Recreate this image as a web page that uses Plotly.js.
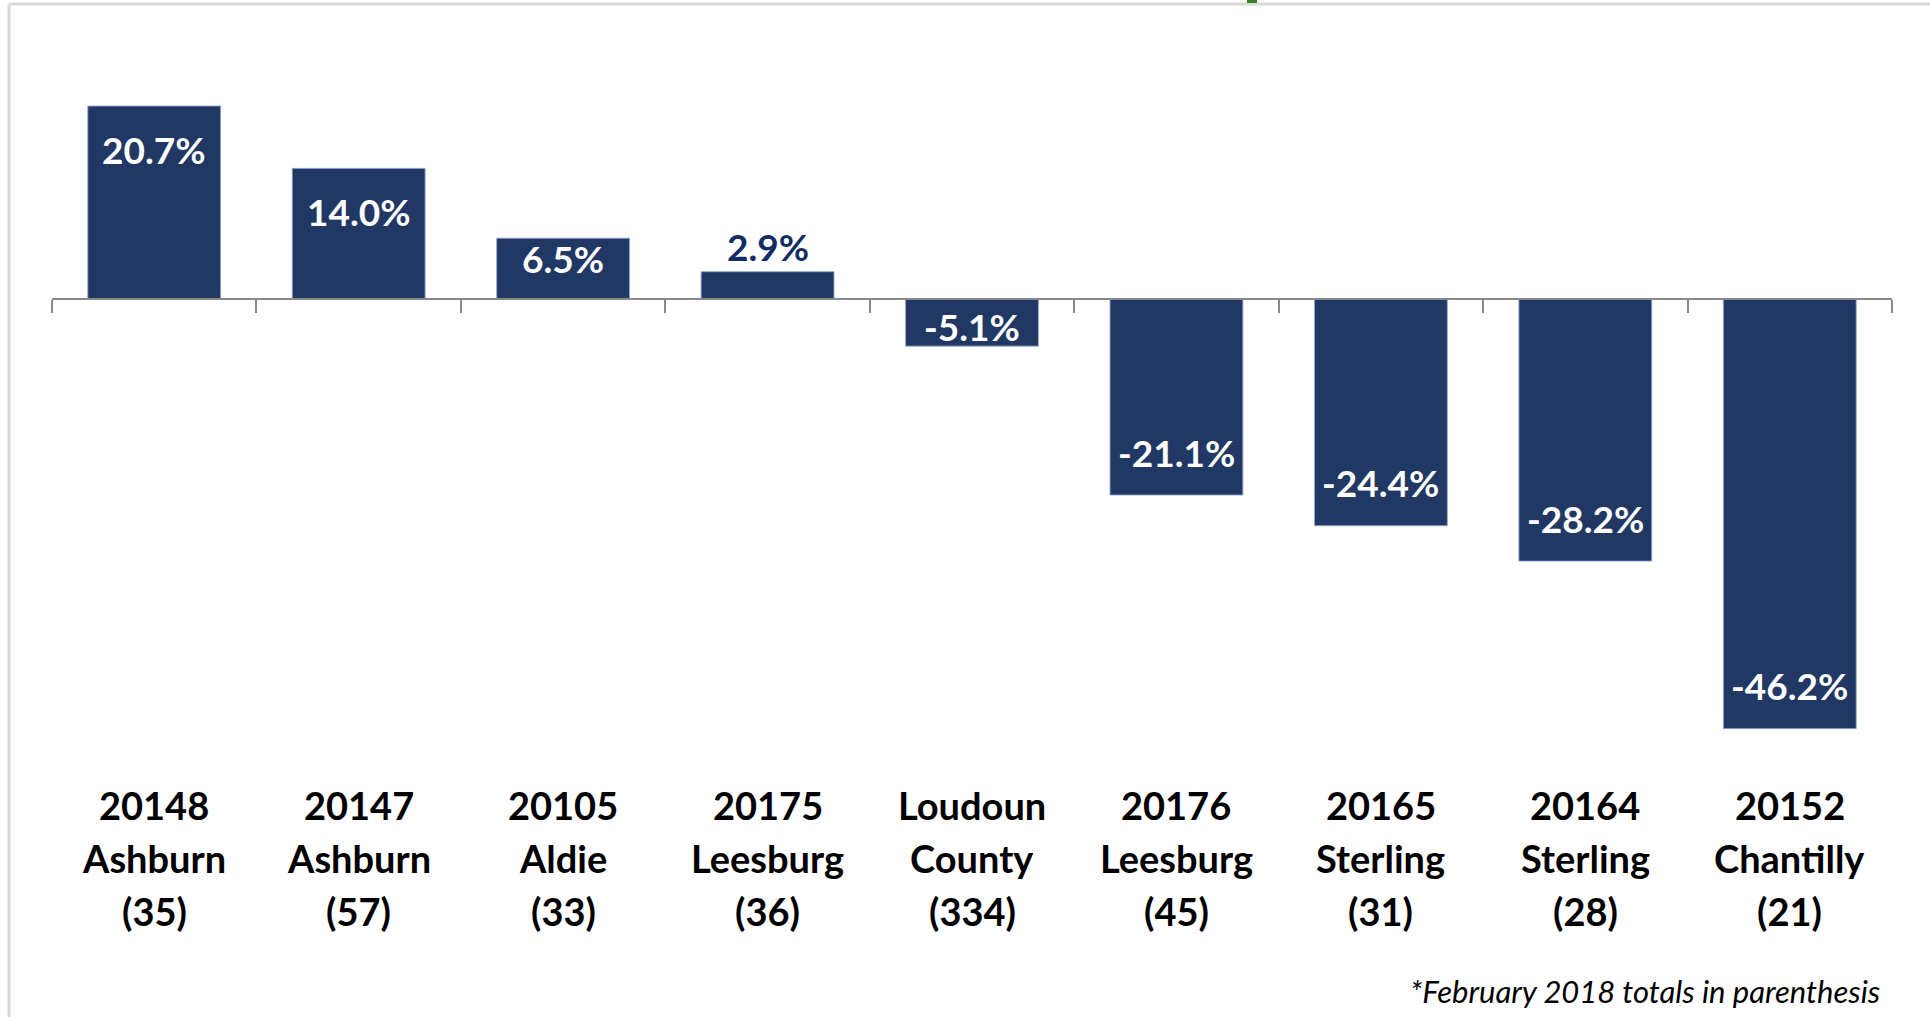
<!DOCTYPE html>
<html>
<head>
<meta charset="utf-8">
<script src="https://cdn.plot.ly/plotly-3.0.1.min.js"></script>
<style>
  html, body { margin: 0; padding: 0; background: #ffffff; }
  #chart { width: 1930px; height: 1017px; }
</style>
</head>
<body>
<div id="chart"></div>
<script>
// ---- data ----
const zipCodes   = ["20148", "20147", "20105", "20175", "Loudoun", "20176", "20165", "20164", "20152"];
const places     = ["Ashburn", "Ashburn", "Aldie", "Leesburg", "County", "Leesburg", "Sterling", "Sterling", "Chantilly"];
const febTotals  = ["(35)", "(57)", "(33)", "(36)", "(334)", "(45)", "(31)", "(28)", "(21)"];
const pctChange  = [20.7, 14.0, 6.5, 2.9, -5.1, -21.1, -24.4, -28.2, -46.2];
const footnote   = "*February 2018 totals in parenthesis";

// ---- layout geometry (pixels) ----
const W = 1930, H = 1017;
const mL = 52, mR = 38, mT = 66, mB = 253;
const plotW = W - mL - mR, plotH = H - mT - mB;
const yMin = -50, yMax = 25;
const px2x = px => (px - mL) / plotW;
const px2y = py => (H - mB - py) / plotH;

const cats = zipCodes.map((z, i) => i);
const barColor = "#213864";
const FONT = "Lato, 'Noto Sans', sans-serif";

const trace = {
  type: "bar",
  x: cats,
  y: pctChange,
  width: 0.65,
  marker: { color: barColor, line: { color: "rgba(150,170,205,0.9)", width: 1 } },
  hoverinfo: "skip"
};

const annotations = [];
// data labels
const pxPerUnit = plotH / (yMax - yMin);
pctChange.forEach((v, i) => {
  const len = Math.abs(v) * pxPerUnit;
  const sgn = v >= 0 ? 1 : -1;
  let shift, color;
  if (len < 35) { shift = sgn * 25; color = "#122c66"; }   // outside end
  else if (len < 90) { shift = -sgn * 20; color = "#ffffff"; }
  else { shift = -sgn * 43; color = "#ffffff"; }             // inside end
  annotations.push({
    x: i, y: v, xref: "x", yref: "y",
    text: "<b>" + v.toFixed(1) + "%</b>",
    showarrow: false, yanchor: "middle", xanchor: "center",
    yshift: shift,
    font: { family: FONT, size: 37, color: color, weight: 800 }
  });
});
// category labels (3 lines)
const rows = [zipCodes, places, febTotals];
const rowY = [805, 858, 911];
rows.forEach((arr, r) => {
  arr.forEach((t, i) => {
    annotations.push({
      x: i, xref: "x", y: px2y(rowY[r]), yref: "paper",
      text: "<b>" + t + "</b>", showarrow: false,
      xanchor: "center", yanchor: "middle",
      font: { family: FONT, size: 38, color: "#000000", weight: 800 }
    });
  });
});
// footnote
annotations.push({
  x: px2x(1882), xref: "paper", y: px2y(991), yref: "paper",
  text: "<i>" + footnote + "</i>", showarrow: false,
  xanchor: "right", yanchor: "middle",
  font: { family: FONT, size: 31, color: "#000000" }
});

const shapes = [
  // chart-area border (top and left)
  { type: "line", xref: "paper", yref: "paper", x0: px2x(9), x1: px2x(W + 5), y0: px2y(4), y1: px2y(4),
    line: { color: "#d9d9d9", width: 3 } },
  { type: "line", xref: "paper", yref: "paper", x0: px2x(9), x1: px2x(9), y0: px2y(4), y1: px2y(H + 5),
    line: { color: "#d9d9d9", width: 3 } },
  // small green mark at the top edge
  { type: "rect", xref: "paper", yref: "paper", x0: px2x(1247), x1: px2x(1257), y0: px2y(0), y1: px2y(3),
    fillcolor: "#3b7d2b", line: { width: 0 } }
];

const layout = {
  width: W, height: H,
  margin: { l: mL, r: mR, t: mT, b: mB, pad: 0 },
  paper_bgcolor: "#ffffff", plot_bgcolor: "rgba(0,0,0,0)",
  showlegend: false,
  xaxis: {
    type: "linear",
    range: [-0.5, 8.5],
    anchor: "free",
    position: (0 - yMin) / (yMax - yMin),
    showline: true, linecolor: "#898989", linewidth: 2,
    tickmode: "array", tickvals: [-0.5, 0.5, 1.5, 2.5, 3.5, 4.5, 5.5, 6.5, 7.5, 8.5],
    ticks: "outside", ticklen: 13, tickwidth: 2, tickcolor: "#898989",
    showticklabels: false, showgrid: false, zeroline: false, fixedrange: true
  },
  yaxis: {
    range: [yMin, yMax],
    visible: false, showgrid: false, zeroline: false, fixedrange: true
  },
  annotations: annotations,
  shapes: shapes,
  font: { family: FONT }
};

Plotly.newPlot("chart", [trace], layout, { displayModeBar: false, staticPlot: true });
</script>
</body>
</html>
